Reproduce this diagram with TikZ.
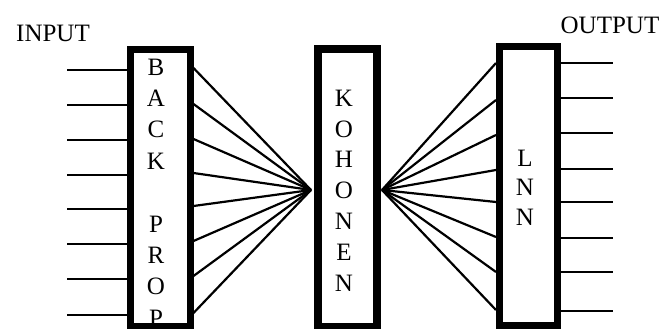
\documentclass[tikz,border=0pt]{standalone}
\usepackage{fontspec}
\setmainfont{Liberation Serif}
\usetikzlibrary{calc}
\begin{document}
\begin{tikzpicture}[x=1pt,y=-1pt,
  layer/.style={draw, inner sep=0pt, fill=none},
  lbl/.style={align=center, inner sep=0pt, font=\fontsize{25}{31.4}\selectfont},
  title/.style={inner sep=0pt, font=\fontsize{25}{30}\selectfont},
  wire/.style={line width=2.2pt}]
\useasboundingbox (0,0) rectangle (665,329);
% layers
\node[layer, line width=7pt, minimum width=60pt, minimum height=276pt] (bp) at (160,188) {};
\node[layer, line width=8pt, minimum width=59pt, minimum height=278pt] (koh) at (347,188) {};
\node[layer, line width=7pt, minimum width=58pt, minimum height=278pt] (lnn) at (528.5,186) {};
% labels
\node[lbl] (bptext) at (156,192.5) {B\\A\\C\\K\\\mbox{}\\P\\R\\O\\P};
\node[lbl, font=\fontsize{25}{30.8}\selectfont] (kohtext) at (344,190.5) {K\\O\\H\\O\\N\\E\\N};
\node[lbl, font=\fontsize{25}{29.5}\selectfont] (lnntext) at (525,187.5) {L\\N\\N};
\node[title] (input) at (53,33) {INPUT};
\node[title] (output) at (610,25) {OUTPUT};
% convergence points
\coordinate (kl) at (311,190);
\coordinate (kr) at (382,190);
% input lines
\foreach \i/\y in {1/70,2/105,3/140,4/175,5/209,6/244,7/279,8/315}{
  \coordinate (in\i) at (67,\y);
  \draw[wire] (in\i) -- ($(bp.west)+(0,\y-188)$);
}
% back prop to kohonen
\foreach \y in {68,104,139,173,206,241,276,313}{
  \draw[wire] ($(bp.east)+(0,\y-188)$) -- (kl);
}
% kohonen to lnn
\foreach \y in {63,100,135,170,202,237,272,310}{
  \draw[wire] (kr) -- ($(lnn.west)+(0,\y-186)$);
}
% output lines
\foreach \i/\y in {1/63,2/98,3/133,4/169,5/202,6/238,7/272,8/311}{
  \coordinate (out\i) at (613,\y);
  \draw[wire] ($(lnn.east)+(0,\y-186)$) -- (out\i);
}
\end{tikzpicture}
\end{document}
